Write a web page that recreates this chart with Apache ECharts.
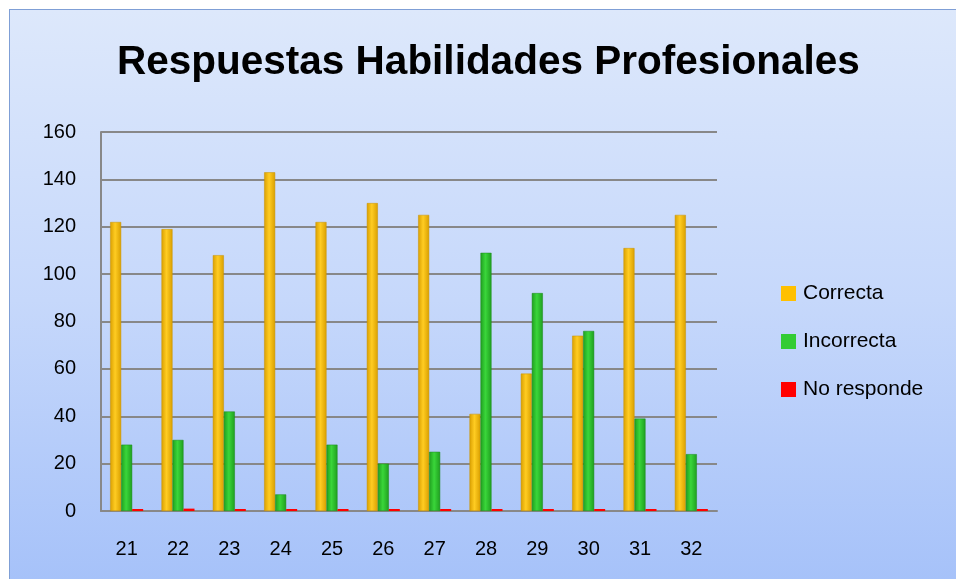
<!DOCTYPE html>
<html>
<head>
<meta charset="utf-8">
<script src="https://cdn.jsdelivr.net/npm/echarts@6/dist/echarts.min.js"></script>
<style>
  html, body { margin: 0; padding: 0; background: #fff; }
  .bg {
    position: absolute; left: 9px; top: 9px; width: 960px; height: 580px;
    border: 1px solid #7f9fd6;
    background: linear-gradient(to bottom, #dde8fb 0%, #c6d8fb 50%, #a5c1f9 100%);
  }
  .chart { position: absolute; left: 0; top: 0; width: 956px; height: 579px; }
</style>
</head>
<body>
<div class="bg"></div>
<div class="chart" id="chart"></div>
<script>
  const categories = ['21', '22', '23', '24', '25', '26', '27', '28', '29', '30', '31', '32']
  const correcta = [122, 119, 108, 143, 122, 130, 125, 41, 58, 74, 111, 125]
  const incorrecta = [28, 30, 42, 7, 28, 20, 25, 109, 92, 76, 39, 24]
  const noResponde = [0, 1, 0, 0, 0, 0, 0, 0, 0, 0, 0, 0]
  const yTicks = [0, 20, 40, 60, 80, 100, 120, 140, 160]

  const font = '"Liberation Sans", Arial, sans-serif'

  // cylinder-ish shading: dark edges, bright middle
  function cyl(edge, mid) {
    return new echarts.graphic.LinearGradient(0, 0, 1, 0, [
      { offset: 0, color: edge },
      { offset: 0.45, color: mid },
      { offset: 1, color: edge },
    ])
  }

  const chart = echarts.init(document.getElementById('chart'))
  chart.setOption({
    backgroundColor: 'transparent',
    animation: false,
    title: {
      text: 'Respuestas Habilidades Profesionales',
      left: 112,
      top: 37,
      textStyle: { fontFamily: font, fontWeight: 'bold', fontSize: 40.5, color: '#000' },
    },
    legend: {
      orient: 'vertical',
      left: 776,
      top: 278,
      itemWidth: 15,
      itemHeight: 15,
      itemGap: 27,
      icon: 'rect',
      textStyle: { fontFamily: font, fontSize: 21, color: '#000', padding: [0, 0, 0, 2] },
      data: [
        { name: 'Correcta', itemStyle: { color: '#ffc000', borderWidth: 0 } },
        { name: 'Incorrecta', itemStyle: { color: '#33cc33', borderWidth: 0 } },
        { name: 'No responde', itemStyle: { color: '#ff0000', borderWidth: 0 } },
      ],
    },
    grid: { left: 101, right: 239, top: 132, bottom: 68 },
    xAxis: {
      type: 'category',
      data: categories,
      axisLine: { lineStyle: { color: '#888', width: 2 } },
      axisTick: { show: false },
      axisLabel: { fontFamily: font, fontSize: 20, color: '#000', margin: 28 },
    },
    yAxis: {
      type: 'value',
      min: yTicks[0],
      max: yTicks[yTicks.length - 1],
      interval: 20,
      axisLine: { show: true, lineStyle: { color: '#888', width: 2 } },
      axisTick: { show: false },
      axisLabel: { fontFamily: font, fontSize: 20, color: '#000', margin: 25 },
      splitLine: { lineStyle: { color: '#888', width: 2 } },
    },
    series: [
      {
        name: 'Correcta',
        type: 'bar',
        data: correcta,
        barWidth: 11,
        barGap: '0%',
        itemStyle: { color: cyl('#d99f00', '#ffcc22'), borderColor: '#c89200', borderWidth: 0.5 },
      },
      {
        name: 'Incorrecta',
        type: 'bar',
        data: incorrecta,
        barWidth: 11,
        itemStyle: { color: cyl('#1f9e1f', '#3ad63a'), borderColor: '#1a8a1a', borderWidth: 0.5 },
      },
      {
        name: 'No responde',
        type: 'bar',
        data: noResponde,
        barWidth: 11,
        barMinHeight: 2,
        itemStyle: { color: '#ff0000' },
      },
    ],
  })
</script>
</body>
</html>
